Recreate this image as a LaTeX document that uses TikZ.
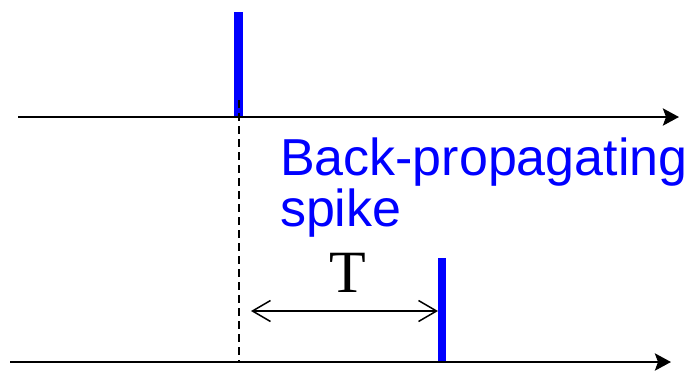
\documentclass[tikz,border=0pt]{standalone}
\usepackage{fontspec}
\setmainfont{Liberation Serif}
\newfontfamily\arialfont{Liberation Sans}
\usetikzlibrary{arrows.meta}
\definecolor{spikeblue}{RGB}{0,0,255}
\begin{document}
\begin{tikzpicture}[x=1pt,y=-1pt,
  axis/.style={line width=2.8pt,-{Stealth[length=16pt,width=17pt,inset=3pt]}},
  spikebar/.style={draw=spikeblue,line width=8.5pt},
  guide/.style={line width=1.6pt,dash pattern=on 8pt off 5pt},
  interval/.style={line width=1.5pt,{Straight Barb[length=18pt,width=21pt,line width=1.5pt]}-{Straight Barb[length=18pt,width=21pt,line width=1.5pt]}},
  lbl/.style={inner sep=0pt,outer sep=0pt}]
\useasboundingbox (0,0) rectangle (693,370);
% coordinates
\coordinate (a1s) at (18,117);
\coordinate (a1e) at (679,117);
\coordinate (a2s) at (10,362);
\coordinate (a2e) at (671,362);
\coordinate (s1t) at (238.5,12);
\coordinate (s1b) at (238.5,117);
\coordinate (s2t) at (442,258);
\coordinate (s2b) at (442,362);
\coordinate (dt) at (239,100);
\coordinate (db) at (239,362);
\coordinate (tl) at (251,311);
\coordinate (tr) at (438,311);
% spikes
\draw[spikebar] (s1t) -- (s1b);
\draw[spikebar] (s2t) -- (s2b);
% dashed guide
\draw[guide] (dt) -- (db);
% axes
\draw[axis] (a1s) -- (a1e);
\draw[axis] (a2s) -- (a2e);
% interval arrow
\draw[interval] (tl) -- (tr);
% labels
\node[lbl,anchor=base west,text=spikeblue,font=\arialfont\fontsize{52}{52}\selectfont] (bp) at (280,175) {Back-propagating};
\node[lbl,anchor=base west,text=spikeblue,font=\arialfont\fontsize{52}{52}\selectfont] (sp) at (280,226) {spike};
\node[lbl,anchor=base,font=\fontsize{60}{60}\selectfont] (T) at (348,292) {T};
\end{tikzpicture}
\end{document}
